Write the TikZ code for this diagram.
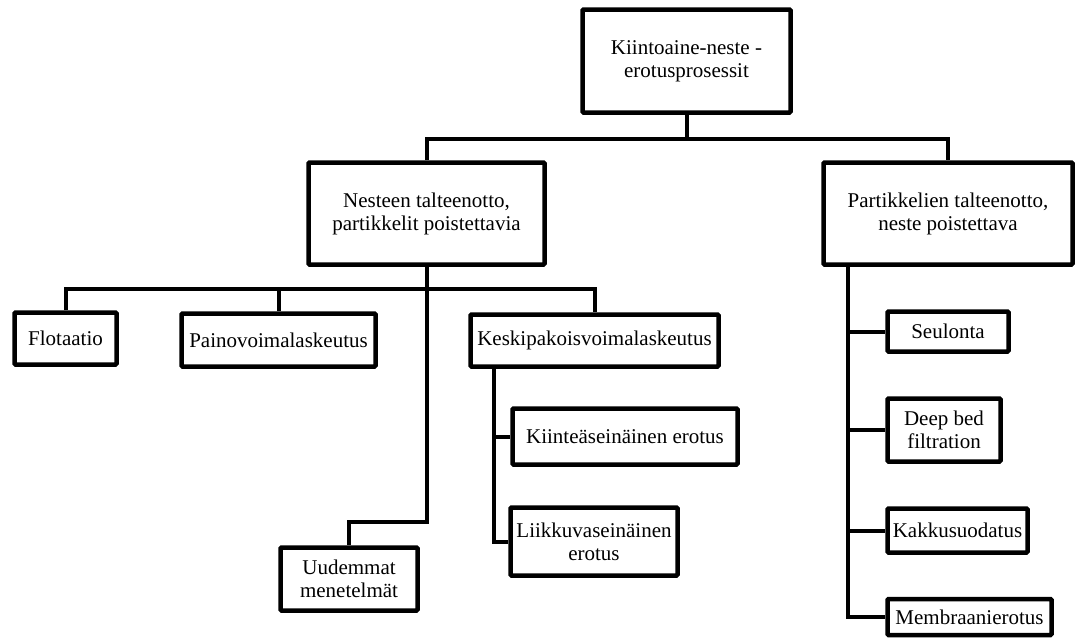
\documentclass[tikz,border=0pt]{standalone}
\usepackage{fontspec}
\setmainfont{Liberation Serif}

\tikzset{
    laatikko/.style={rectangle, draw=black, line width=4.5pt, rounded corners=1pt, fill=white,
        inner sep=0pt, align=center, font=\fontsize{21}{23}\selectfont},
    yhteys/.style={draw=black, line width=4pt}
}

\begin{document}
\begin{tikzpicture}[x=1pt, y=-1pt]
    \useasboundingbox (0, 0) rectangle (1077, 640);

    \node[laatikko, minimum width=208, minimum height=103] (root)    at (686.5, 61)    {Kiintoaine-neste -\\erotusprosessit};
    \node[laatikko, minimum width=236, minimum height=102] (nesteen) at (426.5, 213.5) {Nesteen talteenotto,\\partikkelit poistettavia};
    \node[laatikko, minimum width=249, minimum height=102] (partik)  at (948, 213.5)   {Partikkelien talteenotto,\\neste poistettava};

    \node[laatikko, minimum width=102, minimum height=52] (flot)   at (65.5, 338.5) {Flotaatio};
    \node[laatikko, minimum width=194, minimum height=53] (paino)  at (278.5, 340)  {Painovoimalaskeutus};
    \node[laatikko, minimum width=248, minimum height=52] (keski)  at (594.5, 340.5) {Keskipakoisvoimalaskeutus};
    \node[laatikko, minimum width=137, minimum height=63] (uud)    at (349, 579)    {Uudemmat\\menetelmät};
    \node[laatikko, minimum width=225, minimum height=56] (kiinte) at (625, 436.5)  {Kiinteäseinäinen erotus};
    \node[laatikko, minimum width=167, minimum height=68] (liikku) at (594, 541.5)  {Liikkuvaseinäinen\\erotus};

    \node[laatikko, minimum width=121, minimum height=40] (seul)  at (948, 331.5)  {Seulonta};
    \node[laatikko, minimum width=113, minimum height=63] (deep)  at (944, 430)    {Deep bed\\filtration};
    \node[laatikko, minimum width=140, minimum height=44] (kakku) at (957.5, 530.5) {Kakkusuodatus};
    \node[laatikko, minimum width=164, minimum height=36] (membr) at (969.5, 617)  {Membraanierotus};

    \coordinate (vayla1)   at (686.5, 139);
    \coordinate (vayla2)   at (426.5, 289);
    \coordinate (uudmutka) at (426.5, 522);
    \coordinate (keskijalka) at (494, 369);
    \coordinate (partjalka)  at (848, 267);

    \begin{scope}[on background layer/.try]
    \draw[yhteys] (root.south) -- (vayla1);
    \draw[yhteys] (nesteen.north) |- (vayla1) -| (partik.north);
    \draw[yhteys] (nesteen.south) -- (uudmutka) -| (uud.north);
    \draw[yhteys] (flot.north) |- (vayla2) -| (keski.north);
    \draw[yhteys] (paino.north) |- (vayla2);
    \draw[yhteys] (keskijalka) |- (kiinte.west);
    \draw[yhteys] (keskijalka) |- (liikku.west);
    \draw[yhteys] (partjalka) |- (seul.west);
    \draw[yhteys] (partjalka) |- (deep.west);
    \draw[yhteys] (partjalka) |- (kakku.west);
    \draw[yhteys] (partjalka) |- (membr.west);
    \end{scope}
\end{tikzpicture}
\end{document}
